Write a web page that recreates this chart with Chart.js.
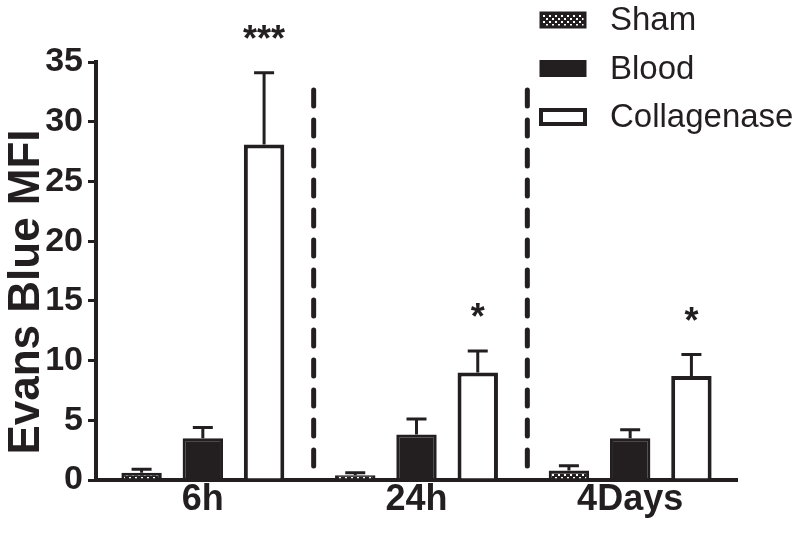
<!DOCTYPE html>
<html lang="en">
  <head>
    <meta charset="UTF-8" />
    <title>Evans Blue MFI</title>
    <script src="https://cdn.jsdelivr.net/npm/chart.js@4"></script>
    <style>
      html, body { margin: 0; padding: 0; background: #fff; }
      #wrap { width: 800px; height: 541px; }
    </style>
  </head>
  <body>
    <div id="wrap"><canvas id="myChart" width="800" height="541"></canvas></div>

    <script>
      const timepoints = ['6h', '24h', '4Days'];
      const groupNames = ['Sham', 'Blood', 'Collagenase'];
      const shamMean = [0.6, 0.4, 0.8];
      const shamErr = [0.3, 0.2, 0.4];
      const bloodMean = [3.5, 3.8, 3.5];
      const bloodErr = [0.9, 1.3, 0.7];
      const collMean = [28.1, 9.0, 8.7];
      const collErr = [6.0, 1.8, 1.8];
      const collStars = ['***', '*', '*'];
      const yTicks = [0, 5, 10, 15, 20, 25, 30, 35];
      const yTitle = 'Evans Blue MFI';

      const ink = '#231f20';
      const font = "'Liberation Sans', Arial, sans-serif";

      // little checkered fill for the sham bars
      function shamPattern() {
        const c = document.createElement('canvas');
        c.width = 6; c.height = 6;
        const g = c.getContext('2d');
        g.fillStyle = ink;
        g.fillRect(0, 0, 6, 6);
        g.fillStyle = '#fff';
        g.fillRect(0, 0, 2, 2);
        g.fillRect(3, 3, 2, 2);
        return g.createPattern(c, 'repeat');
      }
      const shamFill = shamPattern();

      const errs = [shamErr, bloodErr, collErr];

      const extras = {
        id: 'extras',
        afterDatasetsDraw(chart) {
          const ctx = chart.ctx;
          const y = chart.scales.y;
          const x = chart.scales.x;
          ctx.save();
          ctx.strokeStyle = ink;
          ctx.lineWidth = 3;
          // error bars (upper only)
          chart.data.datasets.forEach((ds, di) => {
            const meta = chart.getDatasetMeta(di);
            meta.data.forEach((bar, i) => {
              const top = y.getPixelForValue(ds.data[i]);
              const end = y.getPixelForValue(ds.data[i] + errs[di][i]);
              ctx.beginPath();
              ctx.moveTo(bar.x, top);
              ctx.lineTo(bar.x, end);
              ctx.moveTo(bar.x - 10, end);
              ctx.lineTo(bar.x + 10, end);
              ctx.stroke();
            });
          });
          // significance stars
          ctx.fillStyle = ink;
          ctx.font = 'bold 36px ' + font;
          ctx.textAlign = 'center';
          ctx.textBaseline = 'alphabetic';
          const collMeta = chart.getDatasetMeta(2);
          collMeta.data.forEach((bar, i) => {
            const end = y.getPixelForValue(collMean[i] + collErr[i]);
            ctx.fillText(collStars[i], bar.x, end - 22);
          });
          // dashed separators between time points
          ctx.lineWidth = 5;
          ctx.lineCap = 'round';
          ctx.setLineDash([16, 14]);
          for (let i = 0; i < timepoints.length - 1; i++) {
            const sx = (x.getPixelForValue(i) + x.getPixelForValue(i + 1)) / 2 + 4;
            ctx.beginPath();
            ctx.moveTo(sx, 90);
            ctx.lineTo(sx, y.getPixelForValue(0) - 2);
            ctx.stroke();
          }
          ctx.setLineDash([]);
          // y title, placed by hand
          ctx.save();
          ctx.translate(27, 292);
          ctx.rotate(-Math.PI / 2);
          ctx.font = 'bold 44px ' + font;
          ctx.textAlign = 'center';
          ctx.textBaseline = 'middle';
          ctx.fillText(yTitle, 0, 0);
          ctx.restore();
          // legend
          ctx.font = '33px ' + font;
          ctx.textAlign = 'left';
          ctx.textBaseline = 'middle';
          const fills = [shamFill, ink, '#fff'];
          groupNames.forEach((name, i) => {
            const ly = 20 + i * 48.5;
            ctx.fillStyle = fills[i];
            ctx.fillRect(541, ly - 7, 44, 14);
            ctx.lineWidth = i === 2 ? 4 : 3;
            ctx.strokeStyle = ink;
            ctx.strokeRect(541, ly - 7, 44, 14);
            ctx.fillStyle = ink;
            ctx.fillText(name, 610, ly + 1);
          });
          ctx.restore();
        }
      };

      const ctx = document.getElementById('myChart').getContext('2d');
      const myChart = new Chart(ctx, {
        type: 'bar',
        data: {
          labels: timepoints,
          datasets: [
            { label: groupNames[0], data: shamMean, backgroundColor: shamFill, borderColor: ink, borderWidth: 3 },
            { label: groupNames[1], data: bloodMean, backgroundColor: ink, borderColor: ink, borderWidth: 3 },
            { label: groupNames[2], data: collMean, backgroundColor: '#fff', borderColor: ink, borderWidth: 4 }
          ]
        },
        options: {
          responsive: false,
          animation: false,
          layout: { padding: { top: 62, right: 63, bottom: 16, left: 4 } },
          plugins: {
            legend: { display: false },
            tooltip: { enabled: false }
          },
          datasets: { bar: { categoryPercentage: 0.86, barPercentage: 0.66 } },
          scales: {
            x: {
              grid: { display: false },
              border: { display: true, color: ink, width: 4 },
              afterFit(axis) { axis.height = 45; },
              ticks: { color: ink, padding: -6, font: { family: font, size: 36, weight: 'bold', lineHeight: 1 } }
            },
            y: {
              min: 0,
              max: 35,
              afterBuildTicks(axis) { axis.ticks = yTicks.map(v => ({ value: v })); },
              afterFit(axis) { axis.width = 92; },
              grid: { drawOnChartArea: false, drawTicks: true, tickLength: 8, color: ink, lineWidth: 3 },
              border: { display: true, color: ink, width: 4 },
              ticks: { color: ink, padding: 5, font: { family: font, size: 34, weight: 'bold', lineHeight: 1 } }
            }
          }
        },
        plugins: [extras]
      });
    </script>
  </body>
</html>
